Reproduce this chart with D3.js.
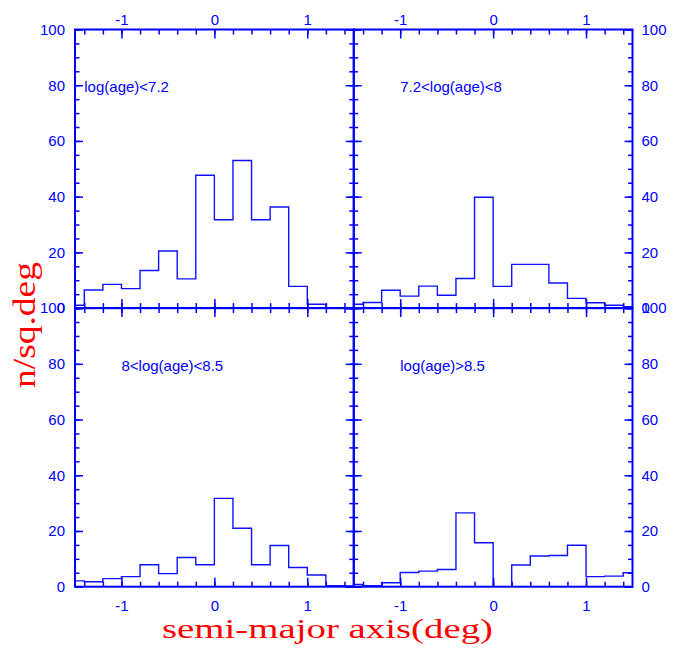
<!DOCTYPE html>
<html>
<head>
<meta charset="utf-8">
<script src="https://cdn.jsdelivr.net/npm/d3@7"></script>
<style>
  body { margin: 0; background: #fff; }
  text { font-family: "Liberation Sans", Arial, sans-serif; }
</style>
</head>
<body>
<svg id="chart" width="684" height="654"></svg>
<script>
// Bin centres of the semi-major axis histograms (deg); each bin is 0.2 deg wide
const binCenters = [-1.5, -1.3, -1.1, -0.9, -0.7, -0.5, -0.3, -0.1, 0.1, 0.3, 0.5, 0.7, 0.9, 1.1, 1.3, 1.5];
const binWidth = 0.2;

// Surface density (n/sq.deg) per bin, one series per age group
const ageYoung  = [1.0, 6.5, 8.5, 7.0, 13.5, 20.5, 10.5, 47.7, 31.7, 53.0, 31.7, 36.3, 7.8, 1.4, 0, 0];
const ageMid    = [1.4, 2.0, 6.4, 4.3, 7.9, 4.6, 10.6, 39.8, 7.8, 15.7, 15.7, 9.0, 3.5, 1.9, 1.0, 0.5];
const ageOld    = [2.1, 1.8, 2.9, 3.6, 7.9, 4.7, 10.5, 7.9, 31.7, 21.0, 7.9, 14.8, 6.9, 4.2, 0.4, 0.3];
const ageOldest = [0.8, 0.4, 1.4, 5.1, 5.6, 6.2, 26.5, 15.8, 0, 7.8, 11.0, 11.2, 14.9, 3.6, 3.8, 5.0];

const panelSeries = [ageYoung, ageMid, ageOld, ageOldest];
const panelLabels = ["log(age)<7.2", "7.2<log(age)<8", "8<log(age)<8.5", "log(age)>8.5"];
const panelLabelX = [-1.4, -1.0, -1.0, -1.0];
const panelLabelY = 80;

// Axis ticks
const xDomain = [-1.5, 1.5];
const yDomain = [0, 100];
const xTickLabels = [-1, 0, 1];
const yTickLabels = [0, 20, 40, 60, 80, 100];
const xMinorTicks = d3.range(-14, 15, 2).map(d => d / 10);
const yMinorTicks = d3.range(0, 101, 5);

const xTitle = "semi-major axis(deg)";
const yTitle = "n/sq.deg";

// Layout
const blue = "#0000ff";
const red = "#ff0000";
const gridLeft = 75, gridTop = 29.5;
const pw = 278.75, ph = 278.6;

const svg = d3.select("#chart");
svg.append("rect").attr("width", 684).attr("height", 654).attr("fill", "#fff");

const fmt = d => String(d);

panelSeries.forEach((values, i) => {
  const col = i % 2, row = Math.floor(i / 2);
  const g = svg.append("g")
    .attr("transform", `translate(${gridLeft + col * pw},${gridTop + row * ph})`);

  const x = d3.scaleLinear().domain(xDomain).range([0, pw]);
  const y = d3.scaleLinear().domain(yDomain).range([ph, 0]);

  // clip the histogram to the panel frame
  const clipId = `clip-${i}`;
  g.append("clipPath").attr("id", clipId)
    .append("rect").attr("width", pw).attr("height", ph);

  const pts = [];
  binCenters.forEach((c, k) => {
    pts.push([c - binWidth / 2, values[k]]);
    pts.push([c + binWidth / 2, values[k]]);
  });
  const line = d3.line().x(d => x(d[0])).y(d => y(d[1]));
  g.append("path")
    .attr("clip-path", `url(#${clipId})`)
    .attr("d", line(pts))
    .attr("fill", "none")
    .attr("stroke", "#1010ff")
    .attr("stroke-width", 1.4)
    .attr("stroke-linejoin", "miter");

  // inward ticks on all four sides
  const axes = [
    { gen: d3.axisLeft, scale: y, tr: "translate(0,0)", major: yTickLabels, minor: yMinorTicks, label: col === 0, pad: 10, maj: 8, min: 4.5 },
    { gen: d3.axisRight, scale: y, tr: `translate(${pw},0)`, major: yTickLabels, minor: yMinorTicks, label: col === 1, pad: 9, maj: 8, min: 4.5 },
    { gen: d3.axisTop, scale: x, tr: "translate(0,0)", major: xTickLabels, minor: xMinorTicks, label: row === 0, pad: 4.5, maj: 9, min: 5 },
    { gen: d3.axisBottom, scale: x, tr: `translate(0,${ph})`, major: xTickLabels, minor: xMinorTicks, label: row === 1, pad: 14, maj: 9, min: 5 }
  ];
  axes.forEach(a => {
    const minor = g.append("g").attr("transform", a.tr)
      .call(a.gen(a.scale).tickValues(a.minor).tickSize(-a.min).tickFormat(""));
    const major = g.append("g").attr("transform", a.tr)
      .call(a.gen(a.scale).tickValues(a.major).tickSize(-a.maj).tickPadding(a.pad)
        .tickFormat(a.label ? fmt : ""));
    [minor, major].forEach(ax => {
      ax.select(".domain").remove();
      ax.selectAll("line").attr("stroke", blue).attr("stroke-width", 1.5);
      ax.selectAll("text").attr("fill", blue)
        .style("font-family", '"Liberation Sans", Arial, sans-serif')
        .style("font-size", "15px");
    });
  });

  // panel frame
  g.append("rect")
    .attr("width", pw).attr("height", ph)
    .attr("fill", "none").attr("stroke", blue).attr("stroke-width", 2);

  // age-group label
  g.append("text")
    .attr("x", x(panelLabelX[i]))
    .attr("y", y(panelLabelY))
    .attr("dy", "0.45em")
    .attr("fill", blue)
    .style("font-size", "15px")
    .text(panelLabels[i]);
});

// axis titles
svg.append("text")
  .attr("x", 327.5).attr("y", 638)
  .attr("text-anchor", "middle")
  .attr("textLength", 331).attr("lengthAdjust", "spacingAndGlyphs")
  .attr("fill", red)
  .style("font-family", '"Liberation Serif", "Times New Roman", serif')
  .style("font-size", "28px")
  .text(xTitle);

svg.append("text")
  .attr("transform", "translate(35,325) rotate(-90)")
  .attr("text-anchor", "middle")
  .attr("textLength", 126).attr("lengthAdjust", "spacingAndGlyphs")
  .attr("fill", red)
  .style("font-family", '"Liberation Serif", "Times New Roman", serif')
  .style("font-size", "31px")
  .text(yTitle);
</script>
</body>
</html>
